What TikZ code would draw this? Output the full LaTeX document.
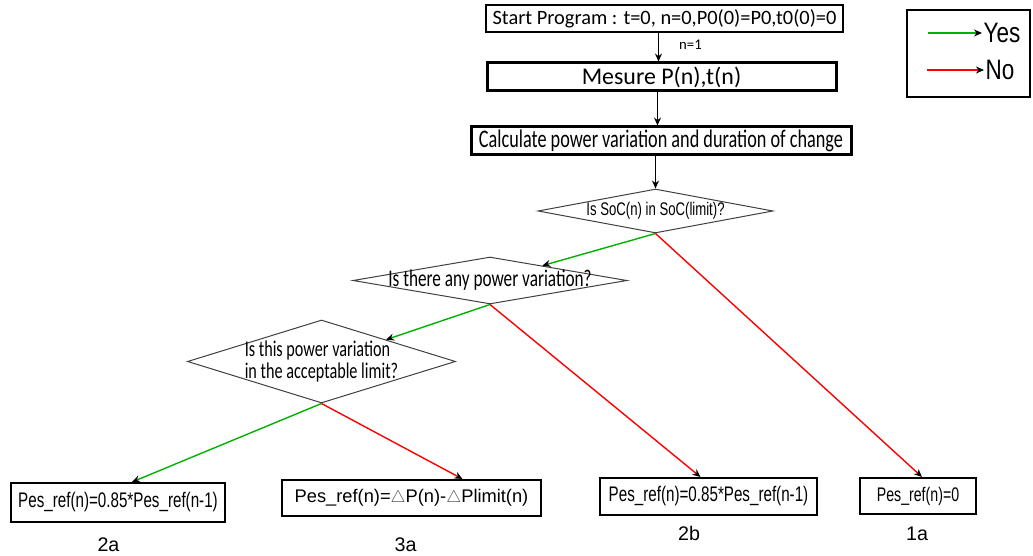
\documentclass[tikz,border=0pt]{standalone}
\usepackage{fontspec}
\setmainfont{Liberation Sans}
\newfontfamily\calfont{Carlito}
\newfontfamily\tallfont[FakeStretch=0.72]{Carlito}
\newfontfamily\narrowfont[FakeStretch=0.8]{Liberation Sans}
\newfontfamily\thinfont[FakeStretch=0.72]{Liberation Sans}
\usepackage{tikz}
\usetikzlibrary{positioning,arrows.meta,calc,shapes.geometric}
\def\px{0.025cm}
\newcommand{\deltasign}{{\color{black!70}$\triangle$}}
\tikzset{
	stepbox/.style={draw,thick,rectangle,inner sep=0pt},
	decision/.style={draw=black!75,line width=1*\px,diamond,inner sep=0pt},
	resultbox/.style={draw,line width=2*\px,rectangle,inner sep=0pt},
	flow/.style={line width=1.4*\px,-{Stealth[black,length=8*\px,width=7*\px]}},
	yesline/.style={flow,green!70!black},
	noline/.style={flow,red},
	casename/.style={font=\fontsize{14}{16}\selectfont,inner sep=0pt},
}

\begin{document}
\begin{tikzpicture}[x=\px,y=-\px]
	
	\useasboundingbox (0,0) rectangle (1033,556);
	
	% program steps
	\node[stepbox,line width=1.6*\px,minimum width=357*\px,minimum height=27*\px]
	(start) at (664.5,18.5)
	{\calfont\fontsize{14.5}{16}\selectfont Start Program : t=0, n=0,P0(0)=P0,t0(0)=0};
	
	\node[stepbox,line width=3*\px,minimum width=349*\px,minimum height=28*\px]
	(mesure) at (661.5,77)
	{\calfont\fontsize{17}{19}\selectfont Mesure P(n),t(n)};
	
	\node[stepbox,line width=3*\px,minimum width=380*\px,minimum height=28*\px]
	(calc) at (661,141)
	{\tallfont\fontsize{18}{20}\selectfont Calculate power variation and duration of change};
	
	\node at (690.5,45)
	{\calfont\fontsize{10.5}{12}\selectfont n=1};
	
	% decisions
	\node[decision,minimum width=235*\px,minimum height=44*\px,
	label={[font=\thinfont\fontsize{13}{15}\selectfont]center:Is SoC(n) in SoC(limit)?}]
	(d1) at (655.5,211) {};
	
	\node[decision,minimum width=274*\px,minimum height=47*\px,
	label={[font=\tallfont\fontsize{17}{19}\selectfont]center:Is there any power variation?}]
	(d2) at (490,280.5) {};
	
	\node[decision,minimum width=268*\px,minimum height=83*\px,
	label={[font=\tallfont\fontsize{16}{15.6}\selectfont,align=left]center:Is this power variation\\in the acceptable limit?}]
	(d3) at (321.5,361.5) {};
	
	% results
	\node[resultbox,minimum width=214*\px,minimum height=39*\px]
	(b2a) at (118,502.5)
	{\thinfont\fontsize{15}{17}\selectfont Pes\_ref(n)=0.85*Pes\_ref(n-1)};
	
	\node[resultbox,minimum width=259*\px,minimum height=36*\px]
	(b3a) at (411.5,498)
	{\fontsize{13}{15}\selectfont Pes\_ref(n)=\deltasign P(n)-\deltasign Plimit(n)};
	
	\node[resultbox,minimum width=217*\px,minimum height=37*\px]
	(b2b) at (708.5,496.5)
	{\thinfont\fontsize{15}{17}\selectfont Pes\_ref(n)=0.85*Pes\_ref(n-1)};
	
	\node[resultbox,minimum width=116*\px,minimum height=36*\px]
	(b1a) at (918,496)
	{\thinfont\fontsize{14}{16}\selectfont Pes\_ref(n)=0};
	
	\node[casename] (l2a) at (108.5,545) {2a};
	\node[casename] (l3a) at (405.5,545) {3a};
	\node[casename] (l2b) at (689,533.5) {2b};
	\node[casename] (l1a) at (917,534) {1a};
	
	% connectors
	\draw[flow] ([xshift=3*\px]start.south -| d1) -- ([xshift=3*\px]mesure.north -| d1);
	\draw[flow] ([xshift=2*\px]mesure.south -| d1) -- ([xshift=2*\px]calc.north -| d1);
	\draw[flow] (calc.south -| d1) -- (d1.north);
	
	\draw[yesline] (d1.south) -- (d2);
	\draw[noline] (d1.south) -- ($(b1a.north)+(4,0)$);
	\draw[yesline] (d2.south) -- (d3);
	\draw[noline] (d2.south) -- ($(b2b.north)+(-8,0)$);
	\draw[yesline] (d3.south) -- ($(b2a.north)+(14,0)$);
	\draw[noline] (d3.south) -- ($(b3a.north)+(51,0)$);
	
	% legend
	\node[draw,line width=1.2*\px,minimum width=123*\px,minimum height=87*\px]
	(legend) at (968.5,53.5) {};
	\node[anchor=west,inner sep=1pt,font=\narrowfont\fontsize{20}{22}\selectfont]
	(yes) at (982,33) {Yes};
	\node[anchor=west,inner sep=1pt,font=\narrowfont\fontsize{20}{22}\selectfont]
	(no) at (984,70) {No};
	\coordinate (yesfrom) at (928,33);
	\coordinate (nofrom) at (927,70);
	\draw[yesline] (yesfrom) -- (yes.west);
	\draw[noline] (nofrom) -- (no.west);
	
\end{tikzpicture}
\end{document}
